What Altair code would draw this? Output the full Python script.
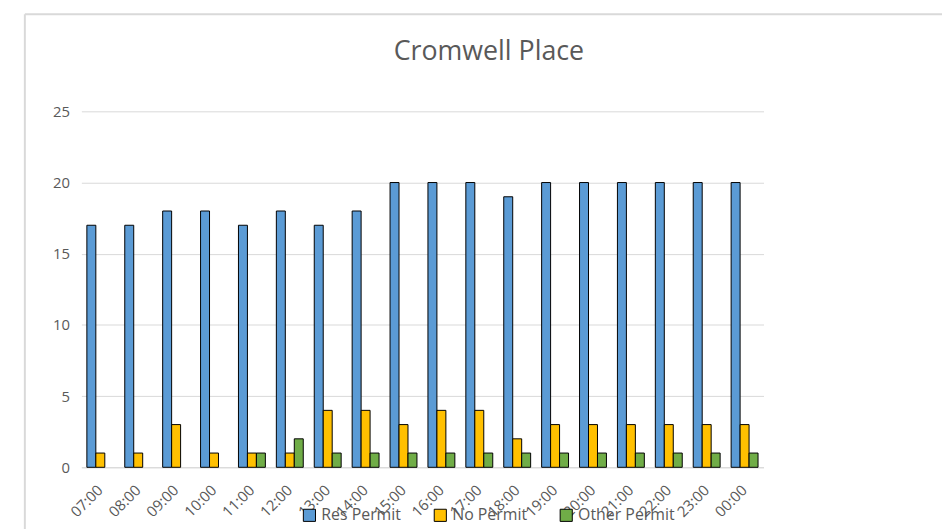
import altair as alt
import pandas as pd

times = ["07:00", "08:00", "09:00", "10:00", "11:00", "12:00", "13:00", "14:00", "15:00",
         "16:00", "17:00", "18:00", "19:00", "20:00", "21:00", "22:00", "23:00", "00:00"]
res_permit = [17, 17, 18, 18, 17, 18, 17, 18, 20, 20, 20, 19, 20, 20, 20, 20, 20, 20]
no_permit = [1, 1, 3, 1, 1, 1, 4, 4, 3, 4, 4, 2, 3, 3, 3, 3, 3, 3]
other_permit = [0, 0, 0, 0, 1, 2, 1, 1, 1, 1, 1, 1, 1, 1, 1, 1, 1, 1]
series = ["Res Permit", "No Permit", "Other Permit"]
colors = ["#5B9BD5", "#FFC000", "#70AD47"]

rows = []
for i, t in enumerate(times):
    for s, vals in zip(series, [res_permit, no_permit, other_permit]):
        rows.append({"time": t, "series": s, "value": vals[i]})
df = pd.DataFrame(rows)

FONT = "Open Sans"
GREY = "#595959"

bars = alt.Chart(df).transform_filter("datum.value > 0").mark_bar(
    stroke="black", strokeWidth=1
).encode(
    x=alt.X("time:N", sort=times, title=None,
            scale=alt.Scale(domain=times, paddingInner=0.29, paddingOuter=0.145),
            axis=alt.Axis(labelAngle=-45, labelAlign="right", labelBaseline="middle",
                          labelFontSize=15, labelColor=GREY, labelFont=FONT,
                          ticks=False, domainColor="#D9D9D9", labelPadding=20)),
    xOffset=alt.XOffset("series:N", sort=series,
                        scale=alt.Scale(domain=series, paddingInner=0, paddingOuter=0)),
    y=alt.Y("value:Q", title=None,
            scale=alt.Scale(domain=[0, 25]),
            axis=alt.Axis(values=[0, 5, 10, 15, 20, 25], labelFontSize=15, labelColor=GREY,
                          labelFont=FONT, ticks=False, domain=False, gridColor="#D9D9D9",
                          labelPadding=12)),
    color=alt.Color("series:N", sort=series,
                    scale=alt.Scale(domain=series, range=colors),
                    legend=alt.Legend(title=None, orient="none", direction="horizontal",
                                      legendX=222, legendY=399, symbolType="square",
                                      symbolSize=150, symbolStrokeColor="black",
                                      symbolStrokeWidth=1, labelFontSize=16, labelColor=GREY,
                                      labelFont=FONT, columnPadding=30, symbolOffset=0)),
)

frame = pd.DataFrame({"k": [0]})
top_border = alt.Chart(frame).mark_rule(color="#D9D9D9", strokeWidth=2).encode(
    x=alt.value(-57), x2=alt.value(900), y=alt.value(-98))
left_border = alt.Chart(frame).mark_rule(color="#D9D9D9", strokeWidth=2).encode(
    x=alt.value(-57), y=alt.value(-98), y2=alt.value(440))

chart = alt.layer(top_border, left_border, bars).properties(
    width=688, height=359,
    title=alt.TitleParams("Cromwell Place", fontSize=27, color=GREY, font=FONT,
                          fontWeight="normal", anchor="middle", dx=67, offset=-53),
    autosize=alt.AutoSizeParams(type="none"),
    padding={"left": 74, "top": 102, "right": 180, "bottom": 60},
).configure_view(stroke=None)

chart.save("out.html", embed_options={"renderer": "svg", "actions": False})
